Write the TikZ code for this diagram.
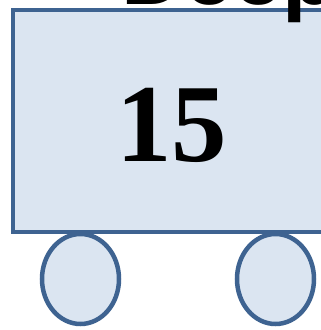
\documentclass[tikz,border=0pt]{standalone}
\usepackage{fontspec}
\setmainfont{Liberation Serif}
\newfontfamily\titlefont{Liberation Sans}
\usepackage{xcolor}
\usetikzlibrary{positioning, shapes.geometric}
\definecolor{wagonfill}{HTML}{DBE5F1}
\definecolor{wagonline}{HTML}{3E6391}

\begin{document}
\begin{tikzpicture}[
    x=1pt, y=1pt,
    every node/.style={align=center},
    wagon/.style={draw=wagonline, fill=wagonfill, line width=4.5pt, minimum width=407pt, minimum height=222pt, inner sep=0pt},
    wheel/.style={ellipse, draw=wagonline, fill=wagonfill, line width=4.5pt, minimum width=77pt, minimum height=90pt, inner sep=0pt},
    number/.style={font=\fontsize{111}{111}\selectfont\bfseries, inner sep=0pt},
    heading/.style={font=\titlefont\fontsize{88}{88}\selectfont\bfseries, inner sep=0pt}
]
\clip (0,0) rectangle (321,-330);

% --- Wagon body ---
\node[wagon] (body) at (216.5,-120.75) {};
\node[number, anchor=base] (count) at (172,-161) {15};

% --- Wheels ---
\node[wheel] (wheelA) at (80.5,-279) {};
\node[wheel] (wheelB) at (275.5,-279) {};

% --- Title ---
\node[heading, anchor=base west] (title) at (121,-4) {Deep};

\end{tikzpicture}
\end{document}
